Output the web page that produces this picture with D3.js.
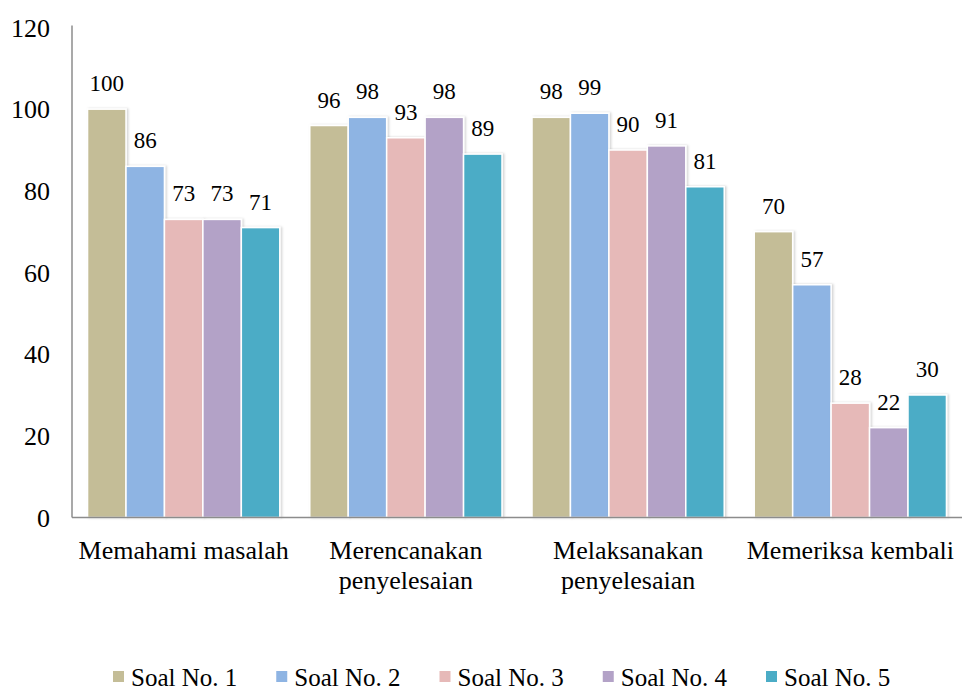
<!DOCTYPE html>
<html>
<head>
<meta charset="utf-8">
<script src="https://cdn.jsdelivr.net/npm/d3@7"></script>
<style>
  body { margin: 0; background: #fff; }
</style>
</head>
<body>
<div id="chart"></div>
<script>
var categories = [["Memahami masalah"], ["Merencanakan", "penyelesaian"], ["Melaksanakan", "penyelesaian"], ["Memeriksa kembali"]];
var series = ["Soal No. 1", "Soal No. 2", "Soal No. 3", "Soal No. 4", "Soal No. 5"];
var soal1 = [100, 96, 98, 70];
var soal2 = [86, 98, 99, 57];
var soal3 = [73, 93, 90, 28];
var soal4 = [73, 98, 91, 22];
var soal5 = [71, 89, 81, 30];
var yTicks = [0, 20, 40, 60, 80, 100, 120];
var colors = ["#c4bd97", "#8eb4e3", "#e6b9b8", "#b3a2c7", "#4bacc6"];

var values = [soal1, soal2, soal3, soal4, soal5];
var w = 963, h = 691;
var mLeft = 72, mRight = 962, mTop = 27.5, mBottom = 517.5;

var svg = d3.select('#chart').append('svg')
	.attr("width", w).attr("height", h)
	.attr("font-family", "'Liberation Serif', 'Times New Roman', Times, 'DejaVu Serif', serif")
	.attr("fill", "#000");

var defs = svg.append("defs");
var f = defs.append("filter").attr("id", "shadow")
	.attr("x", "-20%").attr("y", "-5%").attr("width", "140%").attr("height", "110%");
f.append("feDropShadow").attr("dx", 1.5).attr("dy", 0).attr("stdDeviation", 1.2)
	.attr("flood-color", "#000").attr("flood-opacity", 0.18);

var x0 = d3.scaleBand().domain(d3.range(categories.length)).range([mLeft, mRight]).paddingInner(0.135).paddingOuter(0.07);
var x1 = d3.scaleBand().domain(d3.range(series.length)).range([0, x0.bandwidth()]);
var y = d3.scaleLinear().domain([0, 120]).range([mBottom, mTop]);

// y axis labels
svg.selectAll(".ytick").data(yTicks).enter().append("text")
	.attr("x", 50).attr("y", function(d) { return y(d); })
	.attr("dy", "0.35em").attr("text-anchor", "end")
	.attr("font-size", "26px").text(function(d) { return d; });

// bars
var groups = svg.selectAll(".grp").data(categories).enter().append("g")
	.attr("transform", function(d, i) { return "translate(" + x0(i) + ",0)"; });

groups.each(function(c, ci) {
	var g = d3.select(this);
	series.forEach(function(s, si) {
		var v = values[si][ci];
		g.append("rect")
			.attr("x", x1(si))
			.attr("y", y(v))
			.attr("width", x1.bandwidth())
			.attr("height", mBottom - y(v))
			.attr("fill", colors[si])
			.attr("stroke", "#fff").attr("stroke-width", 1.5)
			.attr("filter", "url(#shadow)");
		g.append("text")
			.attr("x", x1(si) + x1.bandwidth() / 2)
			.attr("y", y(v) - 18)
			.attr("text-anchor", "middle")
			.attr("font-size", "23px")
			.text(v);
	});
});

// axes lines
svg.append("line").attr("x1", mLeft).attr("x2", mLeft).attr("y1", mTop - 2).attr("y2", mBottom)
	.attr("stroke", "#8c8c8c").attr("stroke-width", 1.5);
svg.append("line").attr("x1", mLeft).attr("x2", mRight).attr("y1", mBottom).attr("y2", mBottom)
	.attr("stroke", "#8c8c8c").attr("stroke-width", 1.5);

// category labels
categories.forEach(function(lines, ci) {
	var t = svg.append("text")
		.attr("x", x0(ci) + x0.bandwidth() / 2)
		.attr("y", 559)
		.attr("text-anchor", "middle")
		.attr("font-size", "26px");
	lines.forEach(function(l, li) {
		t.append("tspan").attr("x", x0(ci) + x0.bandwidth() / 2)
			.attr("dy", li ? 30 : 0).text(l);
	});
});

// legend
var lx = d3.scalePoint().domain(d3.range(series.length)).range([113, 766]);
var leg = svg.selectAll(".leg").data(series).enter().append("g")
	.attr("transform", function(d, i) { return "translate(" + lx(i) + ",671)"; });
leg.append("rect").attr("width", 11).attr("height", 11)
	.attr("fill", function(d, i) { return colors[i]; });
leg.append("text").attr("x", 18).attr("y", 6).attr("dy", "0.35em")
	.attr("font-size", "25px").text(function(d) { return d; });
</script>
</body>
</html>
